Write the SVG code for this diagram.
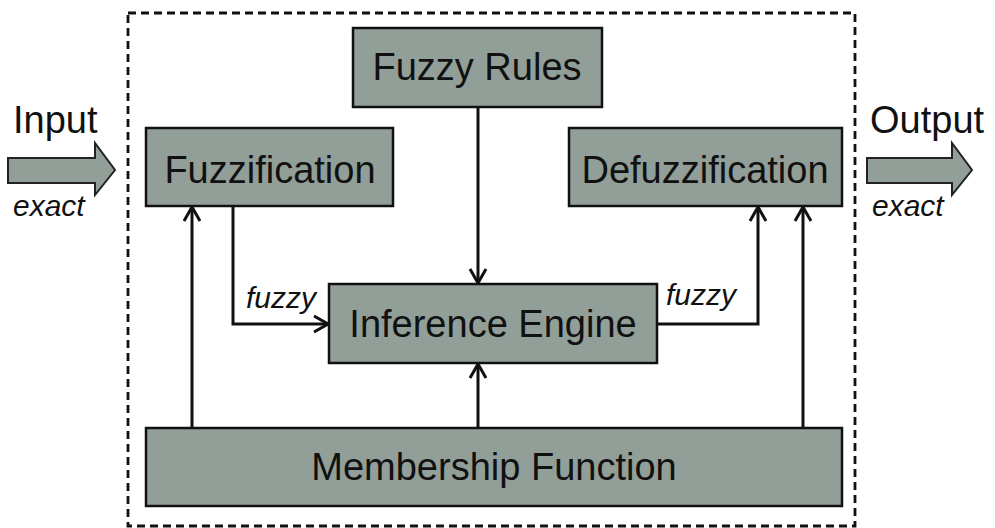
<svg xmlns="http://www.w3.org/2000/svg" width="995" height="528" viewBox="0 0 995 528">
  <defs>
    <style>
      .box { fill: #929f98; stroke: #111; stroke-width: 2.5; }
      .lbl { font-family: "Liberation Sans", Arial, sans-serif; font-size: 38px; fill: #111; text-anchor: middle; }
      .side { font-family: "Liberation Sans", Arial, sans-serif; font-size: 38px; fill: #111; }
      .note { font-family: "Liberation Sans", Arial, sans-serif; font-size: 30px; font-style: italic; fill: #111; }
      .wire { fill: none; stroke: #111; stroke-width: 3; marker-end: url(#head); }
      .frame { fill: none; stroke: #111; stroke-width: 2.8; stroke-dasharray: 8 5; }
      .big { fill: #929f98; stroke: #222; stroke-width: 2; }
    </style>
    <marker id="head" viewBox="0 0 16 20" refX="15" refY="10" markerWidth="16" markerHeight="20" markerUnits="userSpaceOnUse" orient="auto">
      <path d="M1,2 L15,10 L1,18" fill="none" stroke="#111" stroke-width="3"/>
    </marker>
  </defs>

  <!-- system boundary -->
  <rect class="frame" x="128" y="13" width="727" height="513"/>

  <!-- input / output block arrows -->
  <g id="input">
    <path class="big" d="M8,158 H95 V143 L115,170 L95,195 V183 H8 Z"/>
    <text class="side" x="13" y="133">Input</text>
    <text class="note" x="13" y="216">exact</text>
  </g>
  <g id="output">
    <path class="big" d="M867,158 H952 V143 L972,170 L952,195 V183 H867 Z"/>
    <text class="side" x="870" y="133">Output</text>
    <text class="note" x="872" y="216">exact</text>
  </g>

  <!-- connectors -->
  <g id="connectors">
    <path class="wire" d="M478,107 V283"/>
    <path class="wire" d="M233,206 V324 H328"/>
    <path class="wire" d="M192,428 V207"/>
    <path class="wire" d="M478,428 V364"/>
    <path class="wire" d="M657,324 H758 V207"/>
    <path class="wire" d="M803,428 V207"/>
    <text class="note" x="246" y="308">fuzzy</text>
    <text class="note" x="666" y="305">fuzzy</text>
  </g>

  <!-- processing blocks -->
  <g id="fuzzy-rules">
    <rect class="box" x="353" y="28" width="249" height="79"/>
    <text class="lbl" x="477" y="80">Fuzzy Rules</text>
  </g>
  <g id="fuzzification">
    <rect class="box" x="146" y="128" width="247" height="78"/>
    <text class="lbl" x="270" y="183">Fuzzification</text>
  </g>
  <g id="defuzzification">
    <rect class="box" x="569" y="128" width="273" height="78"/>
    <text class="lbl" x="705" y="183">Defuzzification</text>
  </g>
  <g id="inference-engine">
    <rect class="box" x="329" y="284" width="328" height="79"/>
    <text class="lbl" x="493" y="337">Inference Engine</text>
  </g>
  <g id="membership-function">
    <rect class="box" x="146" y="428" width="696" height="78"/>
    <text class="lbl" x="494" y="480">Membership Function</text>
  </g>
</svg>
